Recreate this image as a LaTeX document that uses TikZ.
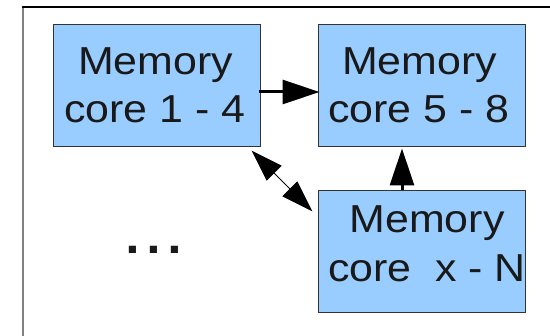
\documentclass[tikz,border=0pt]{standalone}
\usepackage{fontspec}
\setmainfont{Liberation Sans}[FakeStretch=1.1]
\usetikzlibrary{arrows.meta}
\definecolor{boxfill}{HTML}{99CCFF}
\definecolor{boxline}{HTML}{333333}
\begin{document}
\begin{tikzpicture}[x=1pt,y=-1pt,
  corebox/.style={draw=boxline,fill=boxfill,line width=1pt,minimum width=207pt,minimum height=122pt,inner sep=0pt},
  coretext/.style={anchor=base,inner sep=0pt,font=\fontsize{39}{45}\selectfont,text=black!90},
  bigtip/.style={-{Triangle[length=37pt,width=24pt]},line width=3pt},
  dbltip/.style={{Triangle[length=32pt,width=21pt]}-{Triangle[length=32pt,width=21pt]},line width=1pt}]
\useasboundingbox (0,0) rectangle (550,336);
% frame
\coordinate (ftl) at (22.7,7);
\coordinate (fbl) at (22.7,336);
\coordinate (ftr) at (550,7);
\draw[line width=1.6pt,color=gray] (ftl) -- (fbl);
\draw[line width=1.2pt,color=black] ([xshift=-0.8pt]ftl) -- (ftr);
% boxes
\node[corebox] (b1) at (156.5,86) {};
\node[corebox] (b2) at (421.5,86) {};
\node[corebox] (b3) at (421.5,252) {};
% texts
\node[coretext] (t1a) at (155.5,75) {Memory};
\node[coretext] (t1b) at (155,123) {core 1 - 4};
\node[coretext] (t2a) at (419.5,75) {Memory};
\node[coretext] (t2b) at (419,123) {core 5 - 8};
\node[coretext] (t3a) at (427,233) {Memory};
\node[coretext] (t3b) at (427,282) {core\ \ x - N};
\node[anchor=base,inner sep=0pt,font=\fontsize{68}{70}\selectfont,text=black!90] (dots) at (154,254) {...};
% connectors
\draw[bigtip] ([yshift=-6pt,xshift=-2pt]b1.east) -- ([yshift=-6pt,xshift=2pt]b2.west);
\draw[bigtip] ([xshift=-19.5pt]b3.north) -- ([xshift=-19.5pt,yshift=-1pt]b2.south);
\draw[dbltip] ([shift={(-9pt,-3pt)}]b1.south east) -- ([shift={(-5pt,-21pt)}]b3.north west);
\end{tikzpicture}
\end{document}
